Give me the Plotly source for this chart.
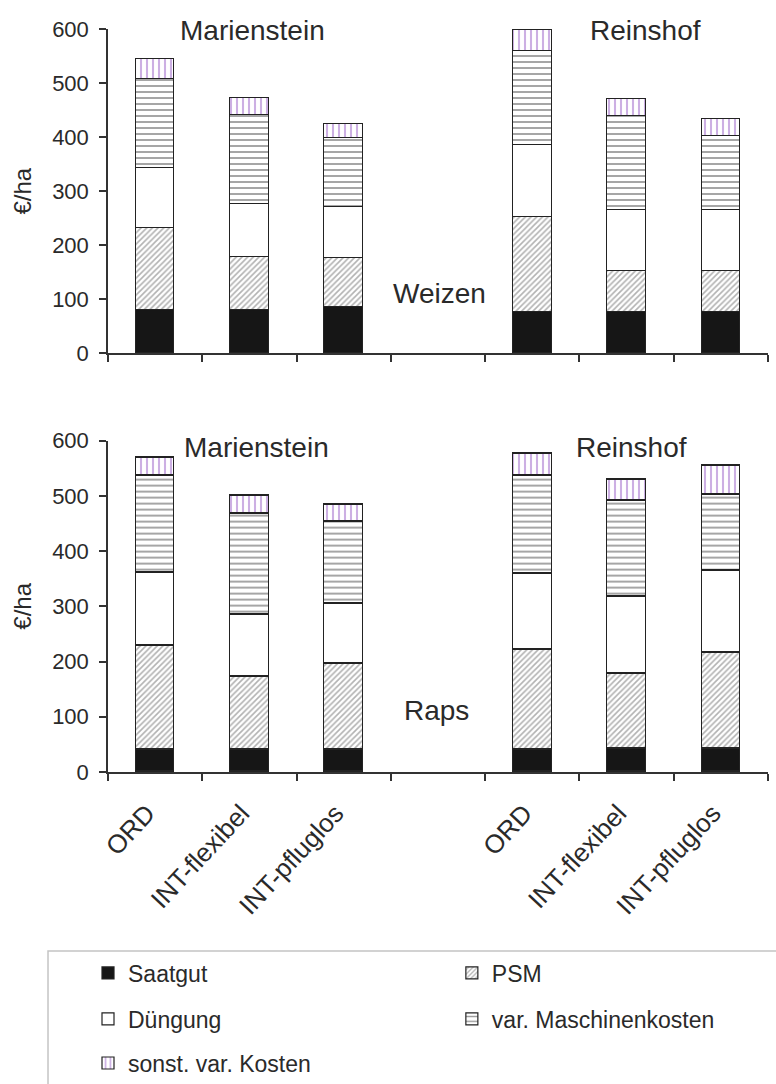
import plotly.graph_objects as go
from plotly.subplots import make_subplots

# ---- data (EUR/ha) ----
sites = ["Marienstein", "Reinshof"]
systems = ["ORD", "INT-flexibel", "INT-pfluglos"]
components = ["Saatgut", "PSM", "Düngung", "var. Maschinenkosten", "sonst. var. Kosten"]
crops = ["Weizen", "Raps"]

# per component, values for [Marienstein ORD, INT-flex, INT-pfl, Reinshof ORD, INT-flex, INT-pfl]
weizen_saatgut = [80, 81, 85, 77, 77, 77]
weizen_psm = [152, 98, 91, 175, 76, 76]
weizen_duengung = [110, 97, 95, 133, 112, 112]
weizen_maschinen = [165, 165, 127, 175, 174, 137]
weizen_sonst = [38, 31, 27, 38, 31, 31]

raps_saatgut = [40, 40, 40, 41, 42, 42]
raps_psm = [188, 132, 156, 180, 136, 175]
raps_duengung = [133, 113, 108, 139, 139, 147]
raps_maschinen = [175, 183, 150, 176, 174, 139]
raps_sonst = [34, 32, 31, 40, 38, 51]

y_ticks = [0, 100, 200, 300, 400, 500, 600]

data = {
    "Weizen": [weizen_saatgut, weizen_psm, weizen_duengung, weizen_maschinen, weizen_sonst],
    "Raps": [raps_saatgut, raps_psm, raps_duengung, raps_maschinen, raps_sonst],
}

# x positions: three systems per site, one empty slot between sites
positions = []
labels = []
for si, site in enumerate(sites):
    for ki, sysname in enumerate(systems):
        positions.append(si * (len(systems) + 1) + ki)
        labels.append(sysname)

styles = [
    dict(color="#161616", pattern=dict(shape="")),
    dict(color="white", pattern=dict(shape="/", fgcolor="#666666", bgcolor="white", size=4, solidity=0.4)),
    dict(color="white", pattern=dict(shape="")),
    dict(color="white", pattern=dict(shape="-", fgcolor="#3a3a3a", bgcolor="white", size=6, solidity=0.3)),
    dict(color="white", pattern=dict(shape="|", fgcolor="#9a5fc8", bgcolor="white", size=6, solidity=0.35)),
]
legend_ids = ["legend", "legend2", "legend3", "legend4", "legend5"]

fig = make_subplots(rows=2, cols=1, shared_xaxes=False)

for r, crop in enumerate(crops, start=1):
    for ci, comp in enumerate(components):
        st = styles[ci]
        fig.add_trace(
            go.Bar(
                x=positions,
                y=data[crop][ci],
                name=comp,
                width=0.41,
                marker=dict(color=st["color"], pattern=st["pattern"],
                            line=dict(color="#222222", width=1.2)),
                showlegend=(r == 1),
                legend=legend_ids[ci],
                legendgroup=comp,
            ),
            row=r, col=1,
        )

font_family = "Liberation Sans, Arial, sans-serif"
txt = "#2a2a2a"

fig.update_layout(
    width=776, height=1084,
    margin=dict(l=108, r=8, t=29, b=312, autoexpand=False),
    barmode="stack",
    plot_bgcolor="white", paper_bgcolor="white",
    font=dict(family=font_family, color=txt, size=22),
    bargap=0,
)

fig.update_layout(
    yaxis=dict(domain=[0.5635, 1.0]),
    yaxis2=dict(domain=[0.0, 0.446]),
)

for ax in ["xaxis", "xaxis2"]:
    fig.layout[ax].update(
        range=[-0.5, 6.5], showline=True, linecolor="#333", linewidth=1.5,
        tickmode="array", tickvals=positions, ticktext=labels, ticks="",
        showgrid=False, zeroline=False,
        minor=dict(tick0=-0.5, dtick=1, ticks="outside", ticklen=7, tickcolor="#333", tickwidth=1.5),
    )
fig.layout.xaxis.showticklabels = False
fig.layout.xaxis2.update(tickangle=-47, tickfont=dict(size=26, color=txt),
                         ticklabelstandoff=14, ticklabelshift=-8)

for ax in ["yaxis", "yaxis2"]:
    fig.layout[ax].update(
        range=[0, 600], tickvals=y_ticks, showline=True, linecolor="#333", linewidth=1.5,
        ticks="outside", ticklen=7, tickcolor="#333", tickwidth=1.5,
        showgrid=False, zeroline=False, tickfont=dict(size=22, color=txt),
        ticklabelstandoff=6,
        title=dict(text="€/ha", font=dict(size=24, color=txt), standoff=14),
    )

# annotations
ann = [
    ("Marienstein", 1.03, 598, "x", "y"),
    ("Reinshof", 5.2, 598, "x", "y"),
    ("Weizen", 3.02, 111, "x", "y"),
    ("Marienstein", 1.08, 587, "x2", "y2"),
    ("Reinshof", 5.05, 588, "x2", "y2"),
    ("Raps", 2.98, 112, "x2", "y2"),
]
for text, x, y, xr, yr in ann:
    fig.add_annotation(text=text, x=x, y=y, xref=xr, yref=yr, showarrow=False,
                       font=dict(size=28, color=txt), xanchor="center", yanchor="middle")

# legends: one per entry, laid out in two columns
legend_common = dict(orientation="v", xanchor="left", yanchor="middle",
                     font=dict(size=23, color=txt), bgcolor="rgba(0,0,0,0)")
col1_x, col2_x = -0.0303, 0.521
row_y = [-0.2705, -0.3324, -0.3917]
fig.update_layout(
    legend=dict(**legend_common, x=col1_x, y=row_y[0]),
    legend2=dict(**legend_common, x=col2_x, y=row_y[0]),
    legend3=dict(**legend_common, x=col1_x, y=row_y[1]),
    legend4=dict(**legend_common, x=col2_x, y=row_y[1]),
    legend5=dict(**legend_common, x=col1_x, y=row_y[2]),
)

# legend frame
fig.add_shape(type="rect", xref="paper", yref="paper",
              x0=-0.0909, x1=1.05, y0=-0.241, y1=-0.5,
              line=dict(color="#c4c4c4", width=1.5), fillcolor="rgba(0,0,0,0)", layer="below")

fig.write_html("out.html")
